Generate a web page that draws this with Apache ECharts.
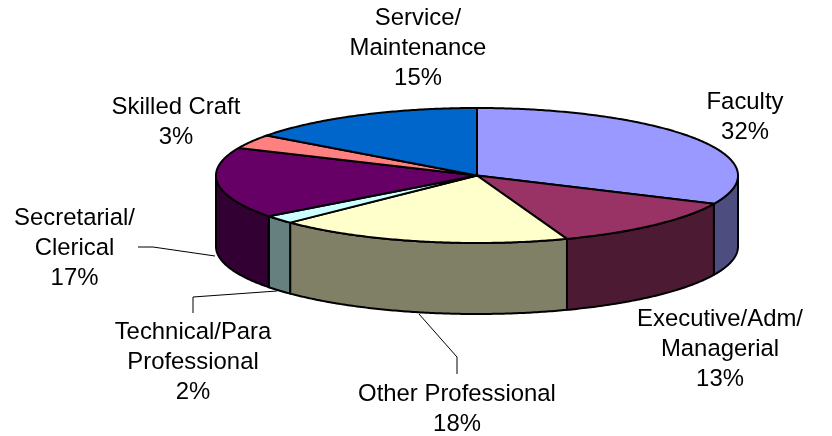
<!DOCTYPE html>
<html>
<head>
<meta charset="utf-8">
<style>html,body{margin:0;padding:0;background:#fff}#c{width:832px;height:436px}</style>
<script src="https://cdn.jsdelivr.net/npm/echarts@6/dist/echarts.min.js"></script>
</head>
<body>
<div id="c"></div>
<script>
const categories = ['Faculty', 'Executive/Adm/\nManagerial', 'Other Professional', 'Technical/Para\nProfessional', 'Secretarial/\nClerical', 'Skilled Craft', 'Service/\nMaintenance'];
const values = [31.9, 12.5, 18.3, 2.0, 17.0, 3.4, 14.9];
const topColors = ['#9999FF', '#993366', '#FFFFCC', '#CCFFFF', '#660066', '#FF8080', '#0066CC'];
const sideColors = ['#4D4D80', '#4D1A33', '#808066', '#668080', '#330033', '#804040', '#003366'];

// Projection of the tilted disc (layout, not data)
const disc = { cx: 477, cy: 175.5, rx: 261, ry: 67.5, depth: 71 };
// Label anchors and leader lines (layout, not data)
const labelAt = [[745, 117], [720, 349], [457, 409], [193, 362], [74.5, 248], [176, 122], [418, 48.5]];
const leaders = [null, null,
  [[419, 314], [457, 357], [457, 374]],
  [[277, 291], [193, 297], [193, 313]],
  [[215, 256], [153, 247], [138, 247]],
  null, null];

const total = values.reduce((a, b) => a + b, 0);
const startAngle = i => values.slice(0, i).reduce((a, b) => a + b, 0) / total * 2 * Math.PI;
const rim = (t, dy) => [disc.cx + disc.rx * Math.sin(t), disc.cy - disc.ry * Math.cos(t) + (dy || 0)];
function arc(a, b, dy) {
  const n = Math.max(2, Math.ceil((b - a) / 0.01)), pts = [];
  for (let k = 0; k <= n; k++) pts.push(rim(a + (b - a) * k / n, dy));
  return pts;
}
const border = { stroke: '#000', lineWidth: 2, lineJoin: 'round' };
const seriesData = categories.map((c, i) => ({ name: c, value: values[i] }));

function renderWall(params) {
  const i = params.dataIndex;
  const a = Math.max(startAngle(i), Math.PI / 2), b = Math.min(startAngle(i + 1), 3 * Math.PI / 2);
  if (b <= a) return { type: 'group', children: [] };
  const pts = arc(a, b, 0).concat(arc(a, b, disc.depth).reverse());
  return { type: 'polygon', shape: { points: pts }, style: Object.assign({ fill: sideColors[i] }, border) };
}
function renderTop(params) {
  const i = params.dataIndex;
  const pts = [[disc.cx, disc.cy]].concat(arc(startAngle(i), startAngle(i + 1), 0));
  return { type: 'polygon', shape: { points: pts }, style: Object.assign({ fill: topColors[i] }, border) };
}
function renderLabel(params) {
  const i = params.dataIndex, children = [];
  if (leaders[i]) children.push({ type: 'polyline', shape: { points: leaders[i] }, style: { fill: null, stroke: '#000', lineWidth: 1 } });
  children.push({
    type: 'text', x: labelAt[i][0], y: labelAt[i][1],
    style: {
      text: categories[i] + '\n' + Math.round(values[i]) + '%',
      fill: '#000', align: 'center', verticalAlign: 'middle',
      font: '23.9px "Liberation Sans", Arial, sans-serif', lineHeight: 30
    }
  });
  return { type: 'group', children };
}
const chart = echarts.init(document.getElementById('c'), null, { renderer: 'canvas' });
chart.setOption({
  animation: false,
  backgroundColor: '#fff',
  series: [
    { type: 'custom', coordinateSystem: 'none', z: 1, silent: true, data: seriesData, renderItem: renderWall },
    { type: 'custom', coordinateSystem: 'none', z: 2, silent: true, data: seriesData, renderItem: renderTop },
    { type: 'custom', coordinateSystem: 'none', z: 3, silent: true, data: seriesData, renderItem: renderLabel }
  ]
});
</script>
</body>
</html>
